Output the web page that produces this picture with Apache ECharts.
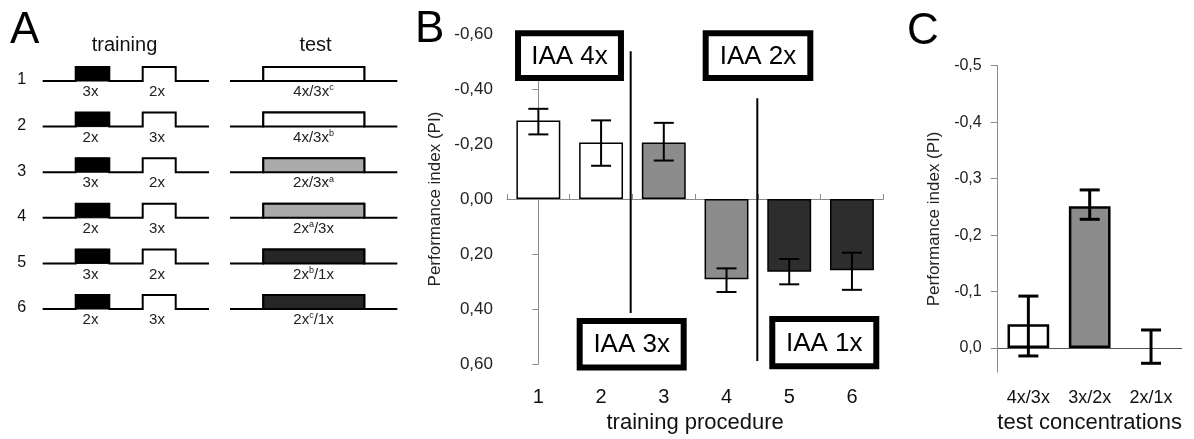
<!DOCTYPE html>
<html><head><meta charset="utf-8">
<script src="https://cdn.jsdelivr.net/npm/echarts@6/dist/echarts.min.js"></script>
<style>html,body{margin:0;padding:0;background:#fff}#c{width:1194px;height:439px}</style>
</head><body><div id="c"></div>
<script>
// ---------- Panel A (schematic) ----------
const trainingRows = [['3x','2x'],['2x','3x'],['3x','2x'],['2x','3x'],['3x','2x'],['2x','3x']];
const testLabels = [['4x/3x','c',''],['4x/3x','b',''],['2x/3x','a',''],['2x','a','/3x'],['2x','b','/1x'],['2x','c','/1x']];
const testGroup = [0,0,1,1,2,2];
// ---------- Panel B ----------
const procedures = ['1','2','3','4','5','6'];
const piB      = [-0.286, -0.206, -0.206, 0.292, 0.264, 0.259];
const errTopB  = [-0.328, -0.286, -0.277, 0.252, 0.218, 0.195];
const errBotB  = [-0.235, -0.121, -0.140, 0.338, 0.310, 0.330];
const groupB   = [0,0,1,1,2,2];
const boxLabels = ['IAA 4x','IAA 2x','IAA 3x','IAA 1x'];
// ---------- Panel C ----------
const concentrations = ['4x/3x','3x/2x','2x/1x'];
const piC     = [-0.042, -0.251, 0.0];
const errTopC = [-0.092, -0.280, -0.032];
const errBotC = [0.014, -0.228, 0.027];
const groupC  = [0,1,0];
const ticksC  = [-0.5,-0.4,-0.3,-0.2,-0.1,0];

// ---------- styles / layout ----------
const FONT = '"Liberation Sans", Arial, sans-serif';
const groupFill = ['#ffffff', '#8c8c8c', '#2d2d2d'];
const testFill  = ['#ffffff', '#aaaaaa', '#262626'];
// annotation positions (in axis units of panel B: x in category units, y in PI)
const boxPos = [[-0.372,-0.614,1.365,-0.429],[2.620,-0.614,4.384,-0.429],[0.611,0.432,2.365,0.623],[3.682,0.425,5.436,0.619]];
const sepPos = [[1.472,-0.537,0.414],[3.491,-0.366,0.589]];

function fmt(d){ return function(v){ let r = Math.round(v*Math.pow(10,d))/Math.pow(10,d); if (r===0) r = 0; return r.toFixed(d).replace('.', ','); }; }

function errRender(cap, lw){
  return function(params, api){
    const x = api.value(0);
    const p1 = api.coord([x, api.value(1)]);
    const p2 = api.coord([x, api.value(2)]);
    const h = cap/2, st = {stroke:'#000', lineWidth:lw};
    return {type:'group', children:[
      {type:'line', shape:{x1:p1[0],y1:p1[1],x2:p2[0],y2:p2[1]}, style:st},
      {type:'line', shape:{x1:p1[0]-h,y1:p1[1],x2:p1[0]+h,y2:p1[1]}, style:st},
      {type:'line', shape:{x1:p2[0]-h,y1:p2[1],x2:p2[0]+h,y2:p2[1]}, style:st}
    ]};
  };
}

// ---------- Panel A graphics ----------
const G = [];
G.push({type:'text', x:10, y:31, style:{text:'A', fontSize:44, fontFamily:FONT, fill:'#000', align:'left', verticalAlign:'middle'}});
G.push({type:'text', x:415, y:30, style:{text:'B', fontSize:44, fontFamily:FONT, fill:'#000', align:'left', verticalAlign:'middle'}});
G.push({type:'text', x:907, y:32, style:{text:'C', fontSize:44, fontFamily:FONT, fill:'#000', align:'left', verticalAlign:'middle'}});
G.push({type:'text', x:124.5, y:45, style:{text:'training', fontSize:20, fontFamily:FONT, fill:'#111', align:'center', verticalAlign:'middle'}});
G.push({type:'text', x:315.5, y:45, style:{text:'test', fontSize:20, fontFamily:FONT, fill:'#111', align:'center', verticalAlign:'middle'}});
const pulseH = 14;
trainingRows.forEach(function(r, i){
  const b = 81 + i*45.6;
  G.push({type:'text', x:21.7, y:b-1, style:{text:String(i+1), fontSize:16, fontFamily:FONT, fill:'#111', align:'center', verticalAlign:'middle'}});
  G.push({type:'polyline', shape:{points:[[42.7,b],[75.7,b],[75.7,b-pulseH],[109.3,b-pulseH],[109.3,b],[142.7,b],[142.7,b-pulseH],[175.7,b-pulseH],[175.7,b],[209,b]]}, style:{stroke:'#000', lineWidth:2, fill:null}});
  G.push({type:'rect', shape:{x:75.7, y:b-pulseH, width:33.6, height:pulseH, r:[2,2,0,0]}, style:{fill:'#000', stroke:'#000', lineWidth:1}});
  G.push({type:'text', x:90.5, y:b+11, style:{text:r[0], fontSize:15, fontFamily:FONT, fill:'#222', align:'center', verticalAlign:'middle'}});
  G.push({type:'text', x:157, y:b+11, style:{text:r[1], fontSize:15, fontFamily:FONT, fill:'#222', align:'center', verticalAlign:'middle'}});
  G.push({type:'polyline', shape:{points:[[230,b],[263.3,b],[263.3,b-pulseH],[364.3,b-pulseH],[364.3,b],[397.3,b]]}, style:{stroke:'#000', lineWidth:2, fill:null}});
  G.push({type:'rect', shape:{x:263.3, y:b-pulseH, width:101, height:pulseH}, style:{fill:testFill[testGroup[i]], stroke:'#000', lineWidth:2}});
  const t = testLabels[i];
  G.push({type:'text', x:313.5, y:b+11, style:{text:'{n|'+t[0]+'}{s|'+t[1]+'}'+(t[2]?'{n|'+t[2]+'}':''), align:'center', verticalAlign:'middle',
    rich:{n:{fontSize:15, fontFamily:FONT, fill:'#222', lineHeight:17}, s:{fontSize:9, fontFamily:FONT, fill:'#222', lineHeight:10, verticalAlign:'top'}}}});
});

const axisGrey = '#8a8a8a';
const option = {
  animation:false,
  backgroundColor:'#fff',
  textStyle:{fontFamily:FONT},
  graphic:{elements:G},
  grid:[
    {left:507, top:34, width:376.3, height:334.7},
    {left:997.7, top:65.7, width:184, height:314.3}
  ],
  xAxis:[
    {gridIndex:0, type:'category', data:procedures, position:'bottom', axisLine:{show:false, onZero:false}, axisTick:{show:false},
     axisLabel:{fontSize:20, color:'#111', margin:23, fontFamily:FONT}, name:'training procedure', nameLocation:'middle', nameGap:46,
     nameTextStyle:{fontSize:22, color:'#111', fontFamily:FONT}},
    {gridIndex:0, type:'category', data:procedures, position:'bottom', axisLine:{show:true, onZero:true, lineStyle:{color:axisGrey, width:1}},
     axisTick:{show:true, inside:true, length:5, lineStyle:{color:axisGrey}}, axisLabel:{show:false}},
    {gridIndex:0, type:'value', min:-0.5, max:5.5, show:false},
    {gridIndex:1, type:'category', data:concentrations, position:'bottom', axisLine:{show:false, onZero:false}, axisTick:{show:false},
     axisLabel:{fontSize:18, color:'#111', margin:17, fontFamily:FONT}, name:'test concentrations', nameLocation:'middle', nameGap:34,
     nameTextStyle:{fontSize:22, color:'#111', fontFamily:FONT}},
    {gridIndex:1, type:'category', data:concentrations, position:'bottom', axisLine:{show:true, onZero:true, lineStyle:{color:'#555', width:1}},
     axisTick:{show:false}, axisLabel:{show:false}}
  ],
  yAxis:[
    {gridIndex:0, type:'value', min:-0.6, max:0.6, interval:0.2, inverse:true,
     name:'Performance index (PI)', nameLocation:'middle', nameGap:63, nameRotate:90, nameTextStyle:{fontSize:17, color:'#222', fontFamily:FONT},
     axisLine:{show:true, lineStyle:{color:axisGrey}}, axisTick:{show:true, length:6, lineStyle:{color:axisGrey}},
     axisLabel:{fontSize:17, color:'#222', margin:14, formatter:fmt(2), fontFamily:FONT}, splitLine:{show:false}},
    {gridIndex:1, type:'value', min:-0.5, max:0.0426, inverse:true,
     name:'Performance index (PI)', nameLocation:'middle', nameGap:55, nameRotate:90, nameTextStyle:{fontSize:17, color:'#222', fontFamily:FONT},
     axisLine:{show:true, lineStyle:{color:axisGrey}}, axisTick:{show:true, length:7, customValues:ticksC, lineStyle:{color:axisGrey}},
     axisLabel:{fontSize:16, color:'#222', margin:16, customValues:ticksC, formatter:fmt(1), fontFamily:FONT}, splitLine:{show:false}}
  ],
  series:[
    {type:'bar', xAxisIndex:0, yAxisIndex:0, barWidth:'70%',
     data:piB.map(function(v,i){ return {value:v, itemStyle:{color:groupFill[groupB[i]]}}; }),
     itemStyle:{borderColor:'#000', borderWidth:1.5}},
    {type:'custom', xAxisIndex:0, yAxisIndex:0, z:5, renderItem:errRender(20, 2),
     data:procedures.map(function(c,i){ return [i, errTopB[i], errBotB[i]]; })},
    {type:'custom', xAxisIndex:2, yAxisIndex:0, z:4,
     renderItem:function(params, api){
       const a = api.coord([api.value(0), api.value(1)]), b = api.coord([api.value(0), api.value(2)]);
       return {type:'line', shape:{x1:a[0],y1:a[1],x2:b[0],y2:b[1]}, style:{stroke:'#000', lineWidth:2}};
     }, data:sepPos},
    {type:'custom', xAxisIndex:2, yAxisIndex:0, z:6,
     renderItem:function(params, api){
       const p0 = api.coord([api.value(0), api.value(1)]), p1 = api.coord([api.value(2), api.value(3)]);
       const lw = 6;
       const x0 = Math.min(p0[0],p1[0]), x1 = Math.max(p0[0],p1[0]), y0 = Math.min(p0[1],p1[1]), y1 = Math.max(p0[1],p1[1]);
       return {type:'group', children:[
         {type:'rect', shape:{x:x0+lw/2, y:y0+lw/2, width:x1-x0-lw, height:y1-y0-lw}, style:{fill:'#fff', stroke:'#000', lineWidth:lw}},
         {type:'text', style:{text:boxLabels[params.dataIndex], x:(x0+x1)/2, y:(y0+y1)/2+1, align:'center', verticalAlign:'middle', fontSize:26, fontFamily:FONT, fill:'#000'}}
       ]};
     }, data:boxPos},
    {type:'bar', xAxisIndex:3, yAxisIndex:1, barWidth:'68%',
     data:piC.map(function(v,i){ return {value:v, itemStyle:{color:groupFill[groupC[i]], borderWidth:(v===0?0:2.5)}}; }),
     itemStyle:{borderColor:'#000', borderWidth:2.5}},
    {type:'custom', xAxisIndex:3, yAxisIndex:1, z:5, renderItem:errRender(20, 3),
     data:concentrations.map(function(c,i){ return [i, errTopC[i], errBotC[i]]; })}
  ]
};
const chart = echarts.init(document.getElementById('c'), null, {renderer:'canvas'});
chart.setOption(option);
</script></body></html>
